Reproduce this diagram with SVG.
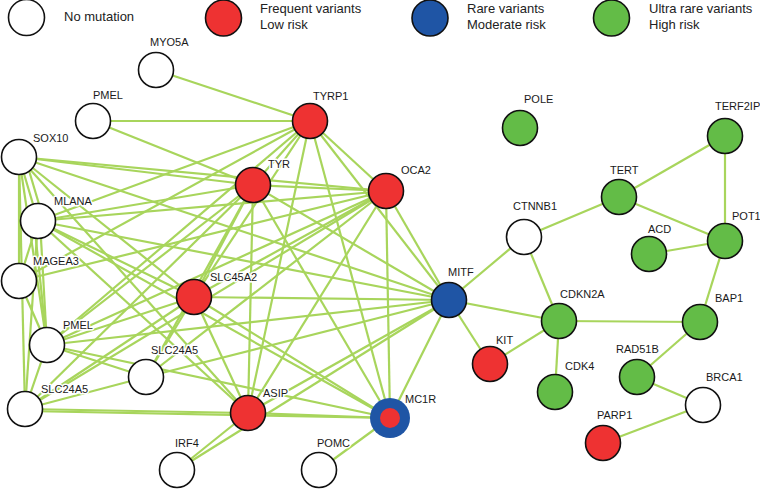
<svg xmlns="http://www.w3.org/2000/svg" width="760" height="489" viewBox="0 0 760 489">
<style>
.e line{stroke:#a8d55c;stroke-width:2.2;fill:none}
.n{stroke:#111;stroke-width:1.6}
.w{fill:#fff}.r{fill:#ee3232}.b{fill:#1f55a5}.g{fill:#63bc47}
.lb{font-family:"Liberation Sans",Arial,sans-serif;font-size:11px;fill:#1a1a1a;stroke:#fff;stroke-width:3;paint-order:stroke;stroke-linejoin:round}
.lg{font-family:"Liberation Sans",Arial,sans-serif;font-size:13px;fill:#222}
</style>
<rect width="760" height="489" fill="#fff"/>
<g id="legend">
<circle class="n w" cx="26.5" cy="17.5" r="18"/>
<text class="lg" x="64" y="21">No mutation</text>
<circle class="n r" cx="223.5" cy="18" r="18"/>
<text class="lg" x="260" y="13">Frequent variants</text>
<text class="lg" x="260" y="29">Low risk</text>
<circle class="n b" cx="430" cy="18" r="18"/>
<text class="lg" x="467" y="13">Rare variants</text>
<text class="lg" x="467" y="29">Moderate risk</text>
<circle class="n g" cx="611.5" cy="18" r="18"/>
<text class="lg" x="649" y="13">Ultra rare variants</text>
<text class="lg" x="649" y="29">High risk</text>
</g>
<g id="edges" class="e">
<!-- core clique: TYRP1 TYR OCA2 SLC45A2 MITF MC1R ASIP -->
<line x1="310" y1="121" x2="253" y2="185"/>
<line x1="310" y1="121" x2="386" y2="191"/>
<line x1="310" y1="121" x2="194" y2="297"/>
<line x1="310" y1="121" x2="449" y2="300"/>
<line x1="310" y1="121" x2="390" y2="418"/>
<line x1="310" y1="121" x2="248" y2="413"/>
<line x1="253" y1="185" x2="386" y2="191"/>
<line x1="253" y1="185" x2="194" y2="297"/>
<line x1="253" y1="185" x2="449" y2="300"/>
<line x1="253" y1="185" x2="390" y2="418"/>
<line x1="253" y1="185" x2="248" y2="413"/>
<line x1="386" y1="191" x2="194" y2="297"/>
<line x1="386" y1="191" x2="449" y2="300"/>
<line x1="386" y1="191" x2="390" y2="418"/>
<line x1="386" y1="191" x2="248" y2="413"/>
<line x1="194" y1="297" x2="449" y2="300"/>
<line x1="194" y1="297" x2="390" y2="418"/>
<line x1="194" y1="297" x2="248" y2="413"/>
<line x1="449" y1="300" x2="390" y2="418"/>
<line x1="449" y1="300" x2="248" y2="413"/>
<line x1="390" y1="418" x2="248" y2="413"/>
<!-- MYO5A, PMEL top -->
<line x1="156" y1="70" x2="310" y2="121"/>
<line x1="93" y1="121" x2="310" y2="121"/>
<line x1="93" y1="121" x2="253" y2="185"/>
<!-- SOX10 -->
<line x1="19" y1="157" x2="253" y2="185"/>
<line x1="19" y1="157" x2="386" y2="191"/>
<line x1="19" y1="157" x2="449" y2="300"/>
<line x1="19" y1="157" x2="194" y2="297"/>
<line x1="19" y1="157" x2="248" y2="413"/>
<line x1="19" y1="157" x2="38" y2="221"/>
<line x1="25" y1="157" x2="44" y2="221"/>
<line x1="19" y1="157" x2="19" y2="281"/>
<line x1="19" y1="157" x2="47" y2="345"/>
<line x1="19" y1="157" x2="25" y2="409"/>
<!-- MLANA -->
<line x1="38" y1="221" x2="310" y2="121"/>
<line x1="38" y1="221" x2="253" y2="185"/>
<line x1="38" y1="221" x2="386" y2="191"/>
<line x1="38" y1="221" x2="449" y2="300"/>
<line x1="38" y1="221" x2="194" y2="297"/>
<line x1="38" y1="221" x2="390" y2="418"/>
<line x1="38" y1="221" x2="248" y2="413"/>
<line x1="38" y1="221" x2="19" y2="281"/>
<line x1="34" y1="221" x2="47" y2="345"/>
<line x1="40" y1="221" x2="47" y2="345"/>
<line x1="38" y1="221" x2="25" y2="409"/>
<!-- MAGEA3 -->
<line x1="19" y1="281" x2="310" y2="121"/>
<line x1="19" y1="281" x2="47" y2="345"/>
<line x1="19" y1="281" x2="386" y2="191"/>
<!-- PMEL lower -->
<line x1="47" y1="345" x2="253" y2="185"/>
<line x1="47" y1="345" x2="310" y2="121"/>
<line x1="47" y1="345" x2="386" y2="191"/>
<line x1="47" y1="345" x2="449" y2="300"/>
<line x1="47" y1="345" x2="194" y2="297"/>
<line x1="47" y1="345" x2="146" y2="377"/>
<line x1="47" y1="345" x2="390" y2="418"/>
<line x1="47" y1="345" x2="25" y2="409"/>
<!-- SLC24A5 middle -->
<line x1="146" y1="377" x2="194" y2="297"/>
<line x1="146" y1="377" x2="253" y2="185"/>
<line x1="146" y1="377" x2="386" y2="191"/>
<line x1="146" y1="377" x2="449" y2="300"/>
<line x1="146" y1="377" x2="25" y2="409"/>
<!-- SLC24A5 lower -->
<line x1="25" y1="409" x2="194" y2="297"/>
<line x1="25" y1="409" x2="386" y2="191"/>
<line x1="25" y1="409" x2="253" y2="185"/>
<line x1="25" y1="409" x2="248" y2="413"/>
<line x1="25" y1="411" x2="390" y2="418"/>
<!-- IRF4, POMC -->
<line x1="177" y1="470" x2="248" y2="413"/>
<line x1="177" y1="470" x2="449" y2="300"/>
<line x1="319" y1="470" x2="390" y2="418"/>
<!-- right cluster -->
<line x1="449" y1="300" x2="524" y2="237"/>
<line x1="449" y1="300" x2="559" y2="321"/>
<line x1="449" y1="300" x2="490" y2="364"/>
<line x1="524" y1="237" x2="619" y2="197"/>
<line x1="524" y1="237" x2="559" y2="321"/>
<line x1="619" y1="197" x2="725" y2="136"/>
<line x1="619" y1="197" x2="725" y2="241"/>
<line x1="725" y1="136" x2="725" y2="241"/>
<line x1="649" y1="254" x2="725" y2="241"/>
<line x1="725" y1="241" x2="700" y2="322"/>
<line x1="559" y1="321" x2="700" y2="322"/>
<line x1="559" y1="321" x2="490" y2="364"/>
<line x1="559" y1="321" x2="555" y2="392"/>
<line x1="700" y1="322" x2="637" y2="377"/>
<line x1="637" y1="377" x2="703" y2="405"/>
<line x1="703" y1="405" x2="603" y2="443"/>
</g>
<g id="MYO5A"><circle class="n w" cx="156" cy="70" r="17.5"/><text class="lb" x="150" y="46">MYO5A</text></g>
<g id="PMEL1"><circle class="n w" cx="93" cy="121" r="17.5"/><text class="lb" x="93" y="99">PMEL</text></g>
<g id="TYRP1"><circle class="n r" cx="310" cy="121" r="17.5"/><text class="lb" x="313" y="100">TYRP1</text></g>
<g id="SOX10"><circle class="n w" cx="19" cy="157" r="17.5"/><text class="lb" x="33" y="142">SOX10</text></g>
<g id="TYR"><circle class="n r" cx="253" cy="185" r="17.5"/><text class="lb" x="268" y="168">TYR</text></g>
<g id="OCA2"><circle class="n r" cx="386" cy="191" r="17.5"/><text class="lb" x="401" y="174">OCA2</text></g>
<g id="MLANA"><circle class="n w" cx="38" cy="221" r="17.5"/><text class="lb" x="54" y="205">MLANA</text></g>
<g id="MAGEA3"><circle class="n w" cx="19" cy="281" r="17.5"/><text class="lb" x="33" y="265">MAGEA3</text></g>
<g id="SLC45A2"><circle class="n r" cx="194" cy="297" r="17.5"/><text class="lb" x="210" y="281">SLC45A2</text></g>
<g id="MITF"><circle class="n b" cx="449" cy="300" r="17.5"/><text class="lb" x="448" y="276">MITF</text></g>
<g id="PMEL2"><circle class="n w" cx="47" cy="345" r="17.5"/><text class="lb" x="63" y="329">PMEL</text></g>
<g id="SLC24A5_1"><circle class="n w" cx="146" cy="377" r="17.5"/><text class="lb" x="151" y="354">SLC24A5</text></g>
<g id="SLC24A5_2"><circle class="n w" cx="25" cy="409" r="17.5"/><text class="lb" x="41" y="393">SLC24A5</text></g>
<g id="ASIP"><circle class="n r" cx="248" cy="413" r="17.5"/><text class="lb" x="263" y="397">ASIP</text></g>
<g id="MC1R"><circle fill="#1f55a5" cx="390" cy="418" r="20"/><circle fill="#ee3232" cx="390" cy="418" r="10"/><text class="lb" x="405" y="403">MC1R</text></g>
<g id="IRF4"><circle class="n w" cx="177" cy="470" r="17.5"/><text class="lb" x="175" y="447">IRF4</text></g>
<g id="POMC"><circle class="n w" cx="319" cy="470" r="17.5"/><text class="lb" x="317" y="447">POMC</text></g>
<g id="POLE"><circle class="n g" cx="520" cy="128" r="17.5"/><text class="lb" x="524" y="103">POLE</text></g>
<g id="TERF2IP"><circle class="n g" cx="725" cy="136" r="17.5"/><text class="lb" x="715" y="110">TERF2IP</text></g>
<g id="TERT"><circle class="n g" cx="619" cy="197" r="17.5"/><text class="lb" x="610" y="174">TERT</text></g>
<g id="CTNNB1"><circle class="n w" cx="524" cy="237" r="17.5"/><text class="lb" x="513" y="210">CTNNB1</text></g>
<g id="POT1"><circle class="n g" cx="725" cy="241" r="17.5"/><text class="lb" x="732" y="220">POT1</text></g>
<g id="ACD"><circle class="n g" cx="649" cy="254" r="17.5"/><text class="lb" x="648" y="233">ACD</text></g>
<g id="CDKN2A"><circle class="n g" cx="559" cy="321" r="17.5"/><text class="lb" x="560" y="298">CDKN2A</text></g>
<g id="BAP1"><circle class="n g" cx="700" cy="322" r="17.5"/><text class="lb" x="715" y="302">BAP1</text></g>
<g id="KIT"><circle class="n r" cx="490" cy="364" r="17.5"/><text class="lb" x="496" y="344">KIT</text></g>
<g id="CDK4"><circle class="n g" cx="555" cy="392" r="17.5"/><text class="lb" x="565" y="370">CDK4</text></g>
<g id="RAD51B"><circle class="n g" cx="637" cy="377" r="17.5"/><text class="lb" x="616" y="353">RAD51B</text></g>
<g id="BRCA1"><circle class="n w" cx="703" cy="405" r="17.5"/><text class="lb" x="706" y="381">BRCA1</text></g>
<g id="PARP1"><circle class="n r" cx="603" cy="443" r="17.5"/><text class="lb" x="597" y="419">PARP1</text></g>
</svg>
